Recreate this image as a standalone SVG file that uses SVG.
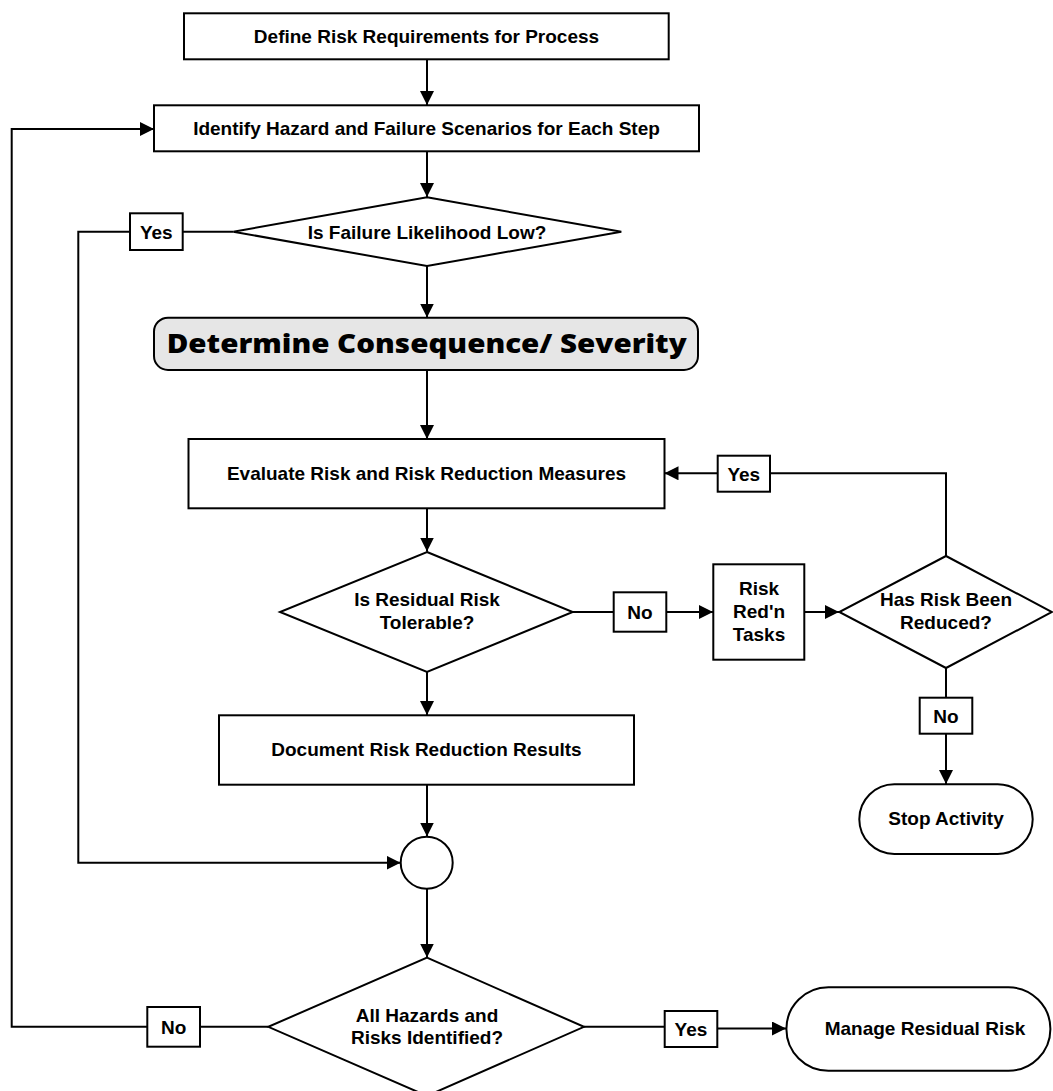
<svg xmlns="http://www.w3.org/2000/svg" width="1053" height="1091" viewBox="0 0 1053 1091">
<defs>
<marker id="arr" markerUnits="userSpaceOnUse" markerWidth="15" markerHeight="15" refX="14" refY="7" orient="auto">
<path d="M0,0 L14,7 L0,14 z" fill="#000"/>
</marker>
<style>
.n{fill:#fff;stroke:#000;stroke-width:2}
.lb{fill:#fff;stroke:#000;stroke-width:2}
.c{fill:none;stroke:#000;stroke-width:2}
.a{fill:none;stroke:#000;stroke-width:2;marker-end:url(#arr)}
text{font-family:"Liberation Sans",Arial,sans-serif;font-weight:bold;font-size:19px;fill:#000;text-anchor:middle}
.big{font-family:"Open Sans","Noto Sans",sans-serif;font-weight:800;font-size:27px}
</style>
</defs>
<rect width="1053" height="1091" fill="#fff"/>
<g id="connectors">
<path class="a" d="M427,59 V105"/>
<path class="a" d="M427,151 V197"/>
<path class="c" d="M233,231.7 H183"/>
<path class="a" d="M130,231.7 H78.3 V862.7 H400.5"/>
<path class="a" d="M427,266 V317.5"/>
<path class="a" d="M427,370 V439"/>
<path class="a" d="M427,508.3 V551.5"/>
<path class="c" d="M572.7,612 H613.7"/>
<path class="a" d="M666.3,612 H713"/>
<path class="a" d="M804.3,612 H839"/>
<path class="c" d="M946,556 V473.3 H770"/>
<path class="a" d="M717.7,473.3 H664.5"/>
<path class="c" d="M946,668 V697.7"/>
<path class="a" d="M946,733.7 V784"/>
<path class="a" d="M427,672 V715"/>
<path class="a" d="M427,785 V836.5"/>
<path class="a" d="M427,888.7 V957.5"/>
<path class="c" d="M268.3,1026.8 H200"/>
<path class="a" d="M147.3,1026.8 H11.7 V129 H154"/>
<path class="c" d="M584,1026.8 H664.7"/>
<path class="a" d="M717.3,1028.5 H786"/>
</g>
<g id="define-risk">
<rect class="n" x="184" y="13.3" width="484.7" height="46"/>
<text x="426.5" y="42.5">Define Risk Requirements for Process</text>
</g>
<g id="identify-hazard">
<rect class="n" x="154" y="105.3" width="545" height="46"/>
<text x="426.5" y="135">Identify Hazard and Failure Scenarios for Each Step</text>
</g>
<g id="failure-likelihood">
<polygon class="n" points="427,197.3 621.3,231.7 427,266 233.3,231.7"/>
<text x="427" y="238.5">Is Failure Likelihood Low?</text>
</g>
<g id="label-yes-1">
<rect class="lb" x="130" y="213.3" width="52.7" height="36.7"/>
<text x="156.3" y="238.5">Yes</text>
</g>
<g id="determine-consequence">
<rect x="154" y="317.7" width="544" height="52.3" rx="14" ry="14" fill="#e6e6e6" stroke="#000" stroke-width="2"/>
<text class="big" x="426.7" y="352.7" textLength="520" lengthAdjust="spacingAndGlyphs">Determine Consequence/ Severity</text>
</g>
<g id="evaluate-risk">
<rect class="n" x="188.5" y="439" width="476" height="69.3"/>
<text x="426.5" y="480">Evaluate Risk and Risk Reduction Measures</text>
</g>
<g id="residual-tolerable">
<polygon class="n" points="427,552 572.7,612 427,672 280,612"/>
<text x="427" y="606">Is Residual Risk</text>
<text x="427" y="629">Tolerable?</text>
</g>
<g id="label-no-2">
<rect class="lb" x="613.7" y="592.3" width="52.6" height="39.4"/>
<text x="640" y="619">No</text>
</g>
<g id="risk-redn-tasks">
<rect class="n" x="713.3" y="564.3" width="91" height="95.4"/>
<text x="759" y="595">Risk</text>
<text x="759" y="617.7">Red'n</text>
<text x="759" y="640.7">Tasks</text>
</g>
<g id="risk-reduced">
<polygon class="n" points="946,556 1052,612 946,668 839.3,612"/>
<text x="946" y="605.7">Has Risk Been</text>
<text x="946" y="629">Reduced?</text>
</g>
<g id="label-yes-3">
<rect class="lb" x="717.7" y="455.7" width="52.3" height="36"/>
<text x="743.8" y="480.5">Yes</text>
</g>
<g id="label-no-3">
<rect class="lb" x="919.7" y="697.7" width="52.6" height="36"/>
<text x="946" y="722.5">No</text>
</g>
<g id="stop-activity">
<rect class="n" x="859.3" y="784.3" width="173.4" height="69.7" rx="35" ry="35"/>
<text x="946" y="825">Stop Activity</text>
</g>
<g id="document-results">
<rect class="n" x="219" y="715.3" width="415" height="69.4"/>
<text x="426.5" y="755.5">Document Risk Reduction Results</text>
</g>
<g id="merge-circle">
<circle class="n" cx="426.7" cy="862.7" r="26"/>
</g>
<g id="all-identified">
<polygon class="n" points="427,957.7 584,1026.8 427,1095.9 268.3,1026.8"/>
<text x="427" y="1021.7">All Hazards and</text>
<text x="427" y="1044">Risks Identified?</text>
</g>
<g id="label-no-4">
<rect class="lb" x="147.3" y="1007" width="52.7" height="39.7"/>
<text x="173.6" y="1033.5">No</text>
</g>
<g id="label-yes-4">
<rect class="lb" x="664.7" y="1011" width="52.6" height="36"/>
<text x="691" y="1035.5">Yes</text>
</g>
<g id="manage-residual">
<rect class="n" x="786.4" y="987.3" width="264" height="83.4" rx="42" ry="42"/>
<text x="925" y="1035">Manage Residual Risk</text>
</g>
</svg>
